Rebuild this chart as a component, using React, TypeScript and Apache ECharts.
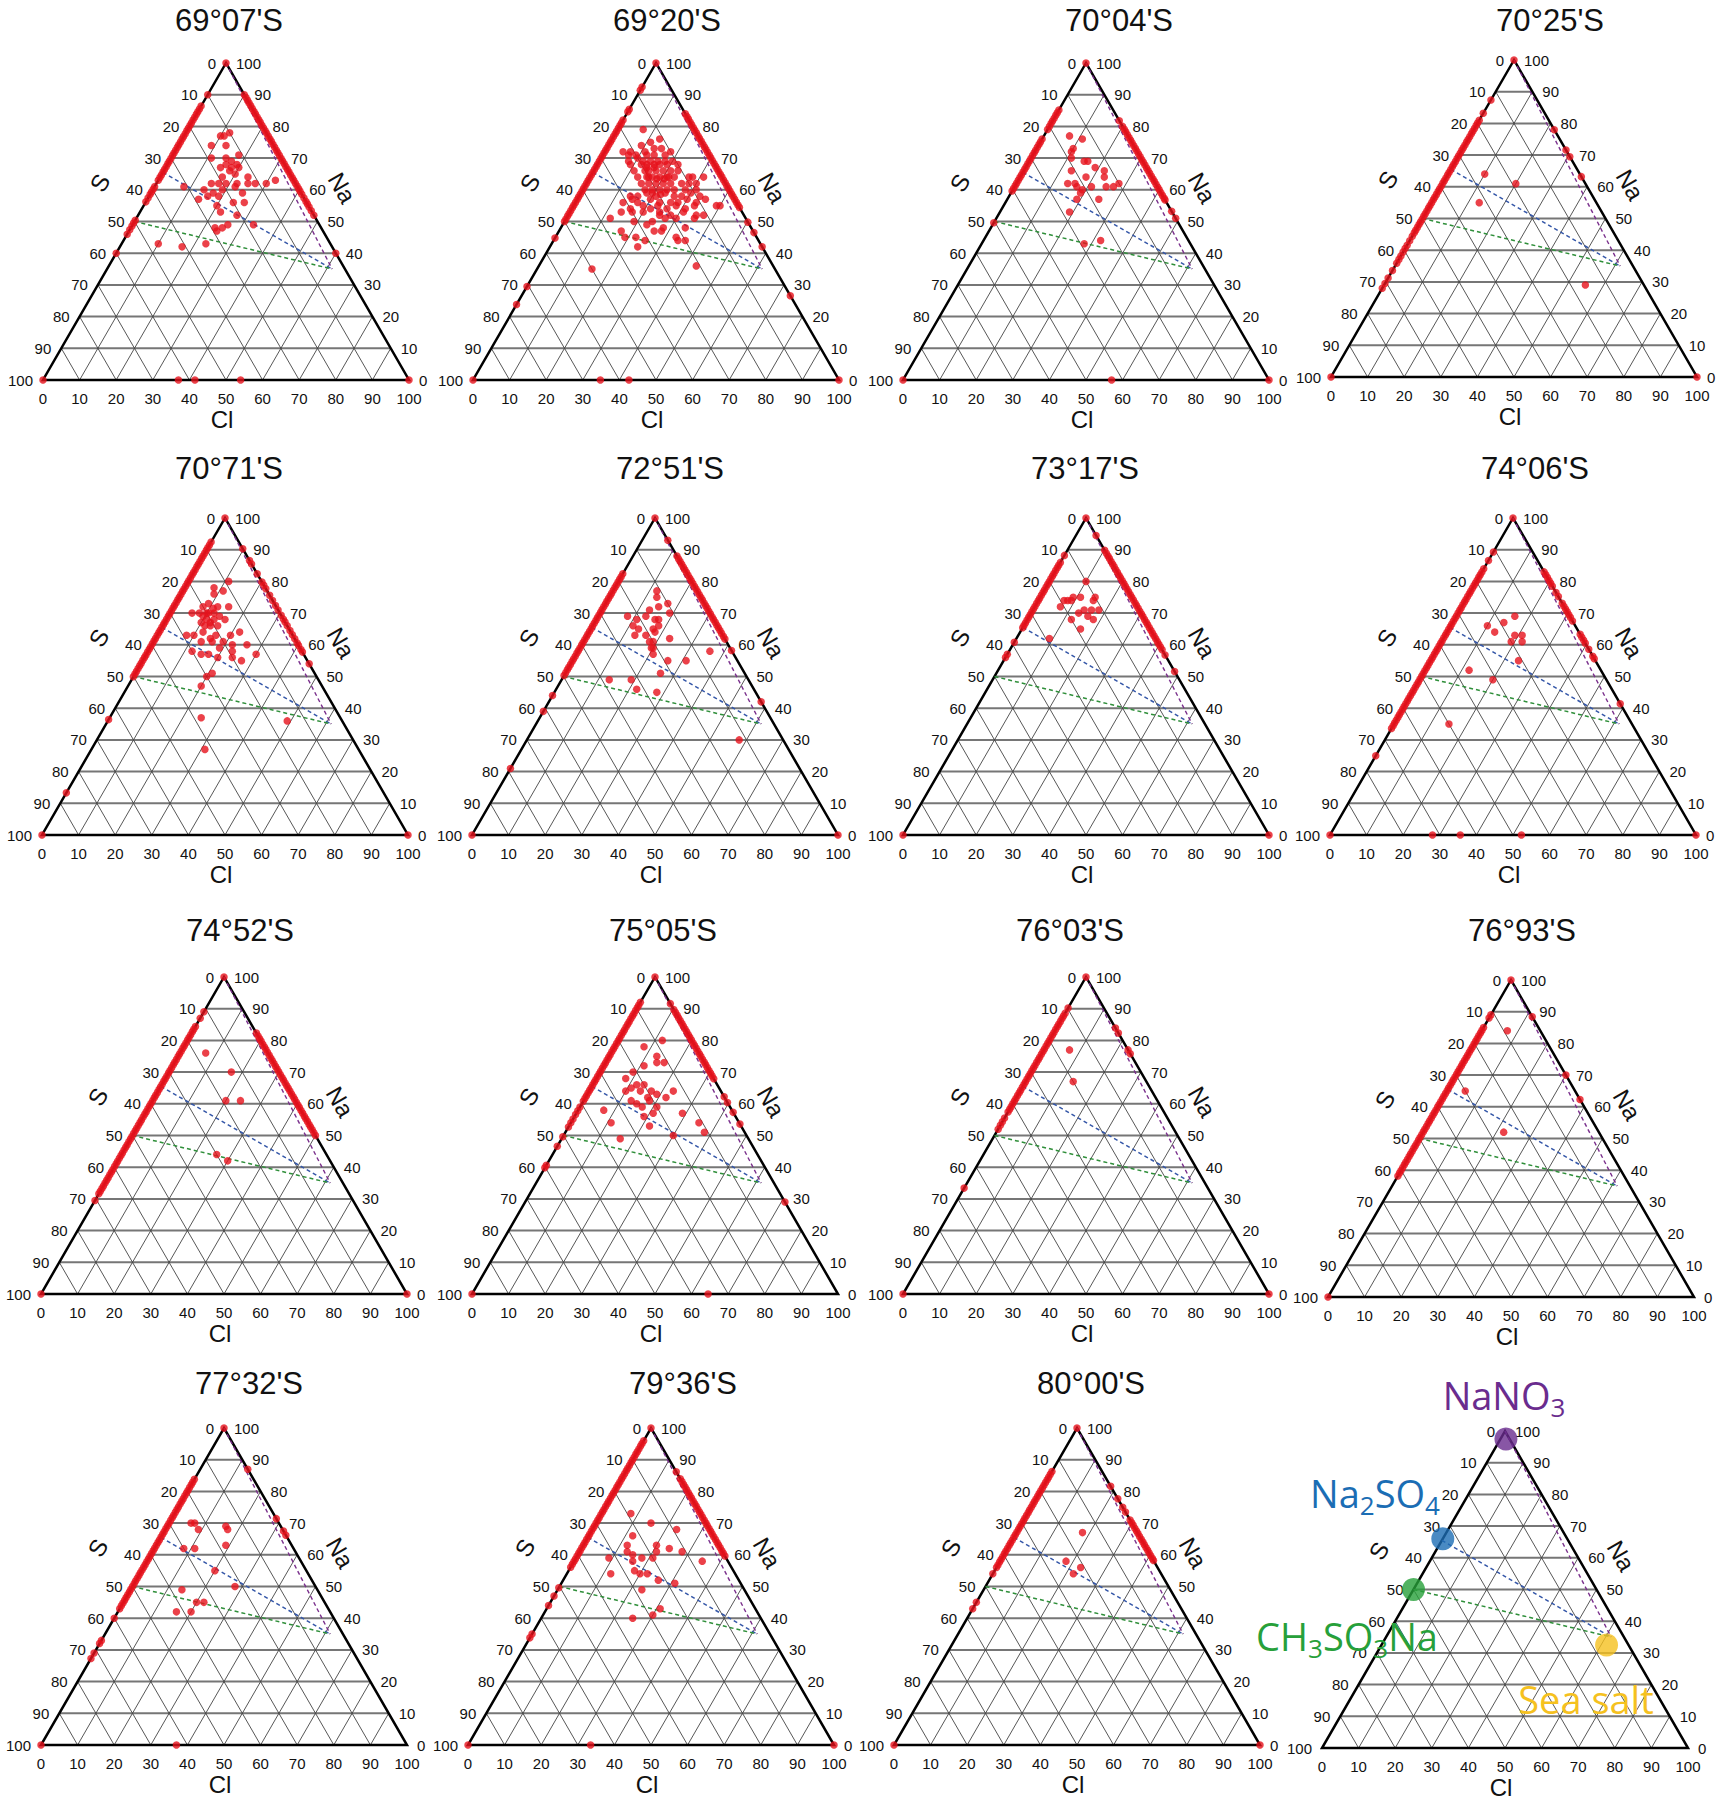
import React, { useEffect, useRef } from "react";
import * as echarts from "echarts";

const FONT = '"Liberation Sans", Arial, Helvetica, sans-serif';
const LEGEND_FONT = '"Open Sans", "Liberation Sans", sans-serif';
const SQ = Math.sqrt(3) / 2;
const PANEL_W = 366;
const PANEL_H = 317;

// tick values of the three ternary axes (S, Cl, Na in %)
const ticks = [0, 10, 20, 30, 40, 50, 60, 70, 80, 90, 100];

// reference compositions [S, Cl, Na]
const na2so4Ref = [34.5, 0, 65.5];
const ch3so3naRef = [50, 0, 50];
const nano3Ref = [0, 0, 100];
const seaSaltRef = [3.5, 61.5, 35];

// legend markers [S, Cl, Na]
const legendNames = ["NaNO3", "Na2SO4", "CH3SO3Na", "Sea salt"];
const legendPoints = [
  [1, 1.5, 97.5],
  [34, 0, 66],
  [50, 0, 50],
  [6, 61.5, 32.5],
];
const legendColors = ["#6a2c8e", "#1b6db4", "#27a03a", "#f5c11f"];

const stationTitles = [
  "69°07'S", "69°20'S", "70°04'S", "70°25'S",
  "70°71'S", "72°51'S", "73°17'S", "74°06'S",
  "74°52'S", "75°05'S", "76°03'S", "76°93'S",
  "77°32'S", "79°36'S", "80°00'S",
];

// ---- data per station ----
// left: S on the S–Na edge (Cl = 0); right: Na on the Cl–Na edge (S = 0)
// base: Cl on the S–Cl edge (Na = 0); inner: [S, Cl] (Na = rest)
const left_6907 = [0, 10, 13.6, 14.5, 15.4, 16.2, 17.1, 18, 18.9, 19.7, 20.6, 21.4, 22.3, 23.2, 24, 24.9, 25.8, 26.6, 27.5, 28.4, 29.2, 30.1, 31, 31.8, 32.7, 33.6, 34.4, 35.3, 36.1, 37, 39, 39.8, 40.7, 41.5, 42.6, 43.8, 49.6, 50.5, 51.4, 52.6, 54, 60, 100];
const right_6907 = [90, 89.1, 88.2, 87.4, 86.5, 85.6, 84.7, 83.9, 83, 82.1, 81.3, 80.4, 79.5, 78.6, 77.8, 76.9, 76, 75.2, 74.3, 73.4, 72.5, 71.7, 70.8, 69.9, 69.1, 68.2, 67.3, 66.4, 65.6, 64.7, 63.8, 63, 62.1, 61.2, 60.3, 59.5, 58.6, 57.4, 56.3, 55.5, 54.6, 53.4, 52, 40, 0];
const base_6907 = [37, 41.5, 54];
const inner_6907 = [[13, 10], [12, 11], [10, 12], [17, 9], [13, 13], [19, 11], [15, 15], [11, 18], [14, 17], [13, 19], [16, 16], [18, 15], [15, 18], [13, 20], [15, 20], [16, 18], [19, 17], [23, 15], [21, 17], [19, 19], [16, 22], [12, 24], [13, 25], [11, 27], [8, 30], [5, 32], [26, 14], [24, 17], [21, 19], [17, 22], [16, 25], [29, 14], [26, 16], [23, 19], [20, 24], [17, 27], [25, 20], [25, 22], [21, 27], [31, 8], [29, 23], [27, 25], [25, 26], [18, 33], [29, 24], [47, 10], [41, 17], [34, 23]];

const left_6920 = [0, 7.6, 8.6, 14.6, 15.4, 18, 18.9, 19.7, 20.6, 21.5, 22.3, 23.2, 24.1, 24.9, 25.8, 26.7, 27.5, 28.4, 29.3, 30.1, 31, 31.9, 32.7, 33.6, 34.5, 35.3, 36.2, 37.1, 37.9, 38.8, 39.7, 40.5, 41.4, 42.3, 43.1, 44, 44.9, 45.7, 46.6, 47.5, 48.3, 49.2, 50, 55.2, 70.5, 76.2, 100];
const right_6920 = [84, 83.1, 82.3, 81.4, 80.5, 79.6, 78.8, 77.9, 77, 76.2, 75.3, 74.4, 73.5, 72.7, 71.8, 70.9, 70.1, 69.2, 68.3, 67.4, 66.6, 65.7, 64.8, 64, 63.1, 62.2, 61.3, 60.5, 59.6, 58.7, 57.9, 57, 56.1, 55.2, 54.4, 49.8, 46.5, 42, 26.6, 0];
const base_6920 = [34.8, 42.6];
const inner_6920 = [[14, 7], [11, 13], [17, 9], [14, 11], [23, 5], [21, 7], [17, 11], [14, 13], [12, 15], [22, 7], [20, 9], [17, 12], [15, 14], [12, 17], [10, 18], [23, 8], [20, 10], [19, 12], [17, 14], [15, 16], [13, 18], [11, 20], [23, 9], [20, 12], [19, 14], [17, 16], [15, 17], [13, 19], [10, 22], [23, 11], [20, 14], [19, 15], [17, 17], [15, 19], [13, 21], [11, 23], [23, 13], [20, 16], [19, 17], [17, 19], [15, 21], [13, 23], [9, 27], [8, 28], [5, 31], [23, 15], [21, 17], [19, 19], [17, 21], [15, 23], [12, 26], [10, 28], [8, 30], [23, 17], [21, 19], [19, 21], [17, 23], [15, 25], [12, 28], [9, 31], [28, 14], [26, 16], [23, 18], [21, 21], [18, 23], [16, 26], [14, 28], [11, 30], [9, 33], [31, 13], [28, 15], [27, 17], [23, 20], [21, 23], [18, 26], [16, 28], [13, 30], [11, 33], [8, 35], [30, 16], [26, 19], [22, 23], [20, 26], [17, 28], [15, 31], [12, 33], [6, 39], [5, 40], [33, 14], [30, 17], [27, 20], [23, 25], [20, 28], [16, 31], [13, 35], [11, 37], [37, 12], [31, 19], [26, 24], [22, 27], [19, 30], [14, 35], [28, 23], [24, 28], [18, 34], [36, 17], [27, 26], [25, 28], [36, 19], [22, 33], [31, 25], [33, 22], [20, 36], [22, 34], [34, 24], [50, 15], [21, 43], [18.5, 13.5], [16.5, 15.5], [20.5, 15.5], [18, 18.5], [16, 20.5], [21.5, 19.5], [19.5, 22], [24.5, 21.5], [22.5, 24.5], [14.5, 21.5]];

const left_7004 = [0, 14.8, 15.7, 16.5, 17.4, 18.3, 19.1, 20, 21, 24, 24.9, 25.7, 26.6, 27.5, 28.3, 29.2, 30.1, 30.9, 31.8, 32.7, 33.5, 34.4, 35.3, 36.1, 37, 37.9, 38.7, 39.6, 40.4, 50.4, 100];
const right_7004 = [81.8, 80, 79.1, 78.3, 77.4, 76.5, 75.6, 74.8, 73.9, 73, 72.2, 71.3, 70.4, 69.5, 68.7, 67.8, 66.9, 66.1, 65.2, 64.3, 63.4, 62.6, 61.7, 60.8, 60, 59.1, 58.2, 57.3, 56.8, 53.2, 51, 0];
const base_7004 = [57];
const inner_7004 = [[16, 7], [13, 11], [17, 10], [18, 10], [15, 16], [16, 15], [19, 11], [14, 19], [12, 22], [21, 13], [18, 18], [13, 23], [24, 14], [22, 16], [22, 17], [21, 19], [22, 19], [18, 21], [14, 25], [12, 27], [10, 28], [18, 25], [24, 19], [28, 19], [29, 28], [24, 32]];

const left_7025 = [0, 12.6, 16.8, 19, 19.9, 20.7, 21.6, 22.5, 23.3, 24.2, 25.1, 25.9, 26.8, 27.7, 28.5, 29.4, 30.3, 31.1, 32, 32.9, 33.7, 34.6, 35.5, 36.3, 37.2, 38.1, 38.9, 39.8, 40.7, 41.5, 42.4, 43.3, 44.1, 45, 45.9, 46.7, 47.6, 48.5, 49.3, 50.2, 51.1, 51.9, 52.8, 53.7, 54.5, 55.6, 57, 58.4, 59.5, 60.6, 61.8, 62.9, 64.1, 66.4, 68.8, 70.5, 72, 100];
const right_7025 = [78, 71.6, 69.5, 63.2, 0];
const base_7025: number[] = [];
const inner_7025 = [[26, 10], [19, 20], [32, 13], [16, 55]];

const left_7071 = [0, 7.6, 8.5, 9.4, 10.2, 11.1, 12, 12.8, 13.7, 14.6, 15.4, 16.3, 17.2, 18, 18.9, 19.8, 20.6, 21.5, 22.4, 23.2, 24.1, 25, 25.8, 26.7, 27.6, 28.4, 29.3, 30.2, 31, 31.9, 32.8, 33.6, 34.5, 35.4, 36.2, 37.1, 38, 38.8, 39.7, 40.6, 41.4, 42.3, 43.2, 44, 44.9, 45.8, 46.6, 47.5, 48.4, 49.2, 50.1, 63.6, 86.7, 100];
const right_7071 = [90.3, 86.6, 85.5, 82.4, 79.8, 78.8, 77.7, 75.6, 74, 72.4, 71, 69.3, 68.1, 67.2, 66, 64.5, 63.2, 61.9, 60.6, 59.8, 58.5, 57.7, 54, 0];
const base_7071: number[] = [];
const inner_7071 = [[14, 8], [9, 11], [12, 11], [15, 9], [20, 8], [18, 9], [16, 12], [13, 15], [24, 6], [22, 8], [20, 10], [18, 12], [17, 14], [16, 16], [23, 10], [21, 11], [19, 13], [22.5, 11.5], [21, 13], [19, 15], [29, 8], [27, 10], [24, 12], [23, 15], [21, 16], [20, 19], [17, 20], [14, 22], [26, 13], [23, 16], [22, 19], [18, 22], [19, 23], [14, 26], [30, 12], [28, 15], [26, 17], [24, 20], [20, 24], [18, 27], [13, 30], [30, 20], [28, 21], [33, 20], [38, 25], [15, 49], [42, 31], [19.5, 10.5], [21.5, 9.5], [17.5, 11], [20.5, 12.5]];

const left_7251 = [0, 17.6, 18.5, 19.3, 20.2, 21.1, 21.9, 22.8, 23.7, 24.5, 25.4, 26.3, 27.1, 28, 28.9, 29.7, 30.6, 31.5, 32.3, 33.2, 34.1, 34.9, 35.8, 36.7, 37.5, 38.4, 39.3, 40.1, 41, 41.9, 42.7, 43.6, 44.5, 45.3, 46.2, 47.1, 47.9, 48.8, 49.7, 56, 61, 79, 100];
const right_7251 = [93, 88, 87.1, 86.3, 85.4, 84.5, 83.7, 82.8, 81.9, 81, 80.2, 79.3, 78.4, 77.6, 76.7, 75.8, 74.9, 74.1, 73.2, 72.3, 71.5, 70.6, 69.7, 68.8, 68, 67.1, 66.2, 65.4, 64.5, 63.6, 62.6, 61.8, 58.2, 42, 0];
const base_7251: number[] = [];
const inner_7251 = [[11, 12], [12, 13], [10, 17], [13, 15], [11, 19], [16, 13], [16, 16], [23, 8], [21, 11], [18, 13], [15, 17], [23, 11], [22, 13], [18, 17], [16, 18], [24, 13], [21, 16], [18, 18], [20, 19], [21, 18], [21.5, 19.5], [21, 20], [22, 21], [15, 23], [6, 36], [19, 26], [14, 31], [23, 26], [38, 13], [32, 19], [32, 22], [27, 28], [12, 58]];

const left_7317 = [0, 11.8, 14, 14.9, 15.7, 16.6, 17.5, 18.3, 19.2, 20.1, 20.9, 21.8, 22.7, 23.5, 24.4, 25.3, 26.1, 27, 27.9, 28.7, 29.6, 30.5, 31.3, 32.2, 33.1, 33.9, 34.6, 39.2, 43, 44, 100];
const right_7317 = [94.5, 89.8, 88.9, 88, 87.2, 86.3, 85.4, 84.6, 83.7, 82.8, 81.9, 81.1, 80.2, 79.3, 78.5, 77.6, 76.7, 75.8, 75, 74.1, 73.2, 72.4, 71.5, 70.6, 69.7, 68.9, 68, 67.1, 66.3, 65.4, 64.5, 63.6, 62.8, 61.9, 61, 60.2, 59.3, 58.4, 56.8, 51.6, 0];
const base_7317: number[] = [];
const inner_7317 = [[10, 10], [18, 8], [16, 9], [14, 11], [19, 7], [17, 9], [10, 15], [11, 15], [15, 14], [13, 16], [11, 18], [21, 7], [17, 13], [20, 12], [15, 16], [14, 18], [19, 16], [29, 9]];

const left_7406 = [0, 10.7, 13.4, 16, 17, 17.9, 18.7, 19.6, 20.5, 21.3, 22.2, 23.1, 23.9, 24.8, 25.7, 26.5, 27.4, 28.3, 29.1, 30, 30.9, 31.7, 32.6, 33.5, 34.3, 35.2, 36.1, 36.9, 37.8, 38.7, 39.5, 40.4, 41.3, 42.1, 43, 43.9, 44.7, 45.6, 46.5, 47.3, 48.2, 49.1, 49.9, 50.8, 51.7, 52.5, 53.4, 54.3, 55.1, 56, 56.9, 57.7, 58.6, 59.5, 60.3, 61.2, 62.1, 62.9, 63.8, 64.7, 65.5, 66.4, 75, 100];
const right_7406 = [83, 82.1, 81.2, 80.3, 79.4, 78.5, 76.5, 75.2, 73.1, 72.2, 71.3, 70.4, 69.5, 68.6, 67.5, 63.3, 62.4, 61.4, 60.5, 58.6, 56.4, 55.6, 41.4, 0];
const base_7406 = [28, 35.6, 52.3];
const inner_7406 = [[15, 16], [24, 10], [23, 13], [19, 14], [18, 19], [16, 21], [20, 19], [17, 22], [21, 24], [36, 12], [31, 20], [50, 15]];

const left_7452 = [0, 11, 13, 15.6, 16.5, 17.3, 18.2, 19.1, 19.9, 20.8, 21.7, 22.5, 23.4, 24.3, 25.1, 26, 26.9, 27.7, 28.6, 29.5, 30.3, 31.2, 32.1, 32.9, 33.8, 34.7, 35.5, 36.4, 37.3, 38.1, 39, 39.9, 40.7, 41.6, 42.5, 43.3, 44.2, 45.1, 45.9, 46.8, 47.7, 48.5, 49.4, 50.3, 51.1, 52, 52.9, 53.7, 54.6, 55.5, 56.3, 57.2, 58.1, 58.9, 59.8, 60.7, 61.5, 62.4, 63.3, 64.1, 65, 65.9, 66.7, 67.6, 68.4, 70.5, 100];
const right_7452 = [82.3, 81.4, 80.5, 79.7, 78.8, 77.9, 77.1, 76.2, 75.3, 74.4, 73.6, 72.7, 71.8, 71, 70.1, 69.2, 68.3, 67.5, 66.6, 65.7, 64.9, 64, 63.1, 62.2, 61.4, 60.5, 59.6, 58.8, 57.9, 57, 56.1, 55.3, 54.4, 53.5, 52.7, 51.8, 50.9, 50, 0];
const base_7452: number[] = [];
const inner_7452 = [[17, 7], [13, 17], [19, 20], [15, 24], [30, 26], [28, 30]];

const left_7505 = [0, 8, 8.9, 9.7, 10.6, 11.5, 12.3, 13.2, 14.1, 14.9, 15.8, 16.7, 17.5, 18.4, 19.3, 20.1, 21, 21.9, 22.7, 23.6, 24.5, 25.3, 26.2, 27.1, 27.9, 28.8, 29.7, 30.5, 31.4, 32.3, 33.1, 34, 34.9, 35.7, 36.6, 37.5, 38.3, 39.2, 41, 42.2, 43.4, 44.8, 46, 47.3, 50.4, 53.4, 59.4, 60.2, 100];
const right_7505 = [91.6, 89.7, 88.8, 87.9, 87.1, 86.2, 85.3, 84.5, 83.6, 82.7, 81.8, 81, 80.1, 79.2, 78.4, 77.5, 76.6, 75.7, 74.9, 74, 73.1, 72.3, 71.4, 70.5, 69.6, 68.8, 67.9, 62.2, 60.4, 57.3, 53.6, 29];
const base_7505 = [64.5];
const inner_7505 = [[8, 12], [14, 8], [12, 13], [17, 11], [13, 14], [11, 16], [21, 9], [24, 8], [22, 12], [20, 14], [24, 11], [22, 14], [19, 17], [26, 10], [21, 17], [18, 19], [13, 23], [16, 22], [21, 18], [25, 15], [20, 21], [35, 7], [25, 19], [22, 21], [14, 29], [35, 11], [25, 22], [11, 35], [11, 38], [20, 30], [35, 16], [24, 17], [26, 13]];

const left_7603 = [0, 9.8, 11.4, 12.3, 13.1, 14, 14.9, 15.7, 16.6, 17.5, 18.3, 19.2, 20.1, 20.9, 21.8, 22.7, 23.5, 24.4, 25.3, 26.1, 27, 27.9, 28.7, 29.6, 30.5, 31.3, 32.2, 33.1, 33.9, 34.8, 35.7, 36.5, 37.4, 38.3, 39.1, 40, 40.9, 41.7, 42.6, 44.5, 45.7, 46.8, 48, 66.6, 100];
const right_7603 = [83.9, 82.3, 77, 75.8, 0];
const base_7603: number[] = [];
const inner_7603 = [[16, 7], [20, 13]];

const left_7693 = [0, 11, 12, 15, 15.9, 16.7, 17.6, 18.5, 19.3, 20.2, 21.1, 21.9, 22.8, 23.7, 24.5, 25.4, 26.3, 27.1, 28, 28.9, 29.7, 30.6, 31.5, 32.3, 33.2, 34.1, 34.9, 35.8, 36.7, 37.5, 38.4, 39.3, 40.1, 41, 41.9, 42.7, 43.6, 44.5, 45.3, 46.2, 47.1, 47.9, 48.8, 49.7, 50.5, 51.4, 52.3, 53.1, 54, 54.9, 55.7, 56.6, 57.5, 58.3, 59.2, 60.1, 60.9, 61.8, 100];
const right_7693 = [88.4, 70, 62.3];
const base_7693: number[] = [];
const inner_7693 = [[9, 7], [30, 5], [26, 22]];

const left_7732 = [0, 16.2, 17.1, 17.9, 18.8, 19.7, 20.5, 21.4, 22.3, 23.1, 24, 24.9, 25.7, 26.6, 27.5, 28.3, 29.2, 30.1, 30.9, 31.8, 32.7, 33.5, 34.4, 35.3, 36.1, 37, 37.9, 38.7, 39.6, 40.5, 41.3, 42.2, 43.1, 43.9, 44.8, 45.7, 46.5, 47.4, 48.3, 49.1, 50, 50.9, 51.7, 52.6, 53.5, 54.3, 55.2, 56.1, 57, 60, 67, 68, 71, 72.7, 100];
const right_7732 = [87, 71.4, 67.5, 66.2];
const base_7732 = [37];
const inner_7732 = [[24, 6], [23, 7], [23, 9], [15, 16], [15, 17], [30, 8], [27, 11], [18, 19], [25, 20], [22, 28], [37, 14], [35, 20], [33, 22], [42, 16], [38, 20]];

const left_7936 = [0, 4, 4.9, 5.7, 6.6, 7.5, 8.3, 9.2, 10.1, 10.9, 11.8, 12.7, 13.5, 14.4, 15.3, 16.1, 17, 17.9, 18.7, 19.6, 20.5, 21.3, 22.2, 23.1, 23.9, 24.8, 25.7, 26.5, 27.4, 28.3, 29.1, 30, 30.9, 31.7, 32.6, 33.5, 34.3, 35.2, 36.1, 36.9, 37.8, 38.7, 39.5, 40.4, 41.3, 42.1, 43, 43.9, 50.4, 53, 56, 65, 66.2, 100];
const right_7936 = [86.2, 84, 83.1, 82.2, 81.4, 80.5, 79.6, 78.8, 77.9, 77, 76.1, 75.3, 74.4, 73.5, 72.7, 71.8, 70.9, 70, 69.2, 68.3, 67.4, 66.6, 65.7, 64.8, 63.9, 63.1, 62.2, 61.3, 60.5, 59.6, 0];
const base_7936 = [33.5];
const inner_7936 = [[19, 8], [15, 15], [9, 23], [22, 12], [25, 12], [26, 13], [17, 20], [18, 21], [14, 24], [11, 28], [32, 9], [25, 15], [26, 16], [23, 18], [20, 21], [7, 35], [34, 12], [27, 18], [26, 20], [24, 22], [22, 26], [18, 31], [28, 23], [26, 31], [35, 25], [29, 30]];

const left_8000 = [0, 13.7, 14.6, 15.5, 16.3, 17.2, 18.1, 18.9, 19.8, 20.7, 21.5, 22.4, 23.3, 24.1, 25, 25.9, 26.7, 27.6, 28.5, 29.3, 30.2, 31.1, 31.9, 32.8, 33.7, 34.5, 35.4, 36.3, 37.1, 38, 38.9, 39.7, 40.6, 41.5, 42.3, 43.2, 44, 46, 55, 57, 100];
const right_8000 = [81.6, 77.7, 75, 73.5, 71, 70.1, 69.3, 68.4, 67.5, 66.7, 65.8, 64.9, 64, 63.2, 62.3, 61.4, 60.6, 59.7, 58.8, 58.2, 0];
const base_8000: number[] = [];
const inner_8000 = [[15, 18], [24, 18], [21, 23], [24, 22]];

const stationLeft = [left_6907, left_6920, left_7004, left_7025, left_7071, left_7251, left_7317, left_7406, left_7452, left_7505, left_7603, left_7693, left_7732, left_7936, left_8000];
const stationRight = [right_6907, right_6920, right_7004, right_7025, right_7071, right_7251, right_7317, right_7406, right_7452, right_7505, right_7603, right_7693, right_7732, right_7936, right_8000];
const stationBase = [base_6907, base_6920, base_7004, base_7025, base_7071, base_7251, base_7317, base_7406, base_7452, base_7505, base_7603, base_7693, base_7732, base_7936, base_8000];
const stationInner = [inner_6907, inner_6920, inner_7004, inner_7025, inner_7071, inner_7251, inner_7317, inner_7406, inner_7452, inner_7505, inner_7603, inner_7693, inner_7732, inner_7936, inner_8000];

// ---- layout (pixels): bottom-left corner x, apex y, title centre ----
const panelLayout = [
  { x: 43, y: 63, tx: 229, ty: 20 },
  { x: 473, y: 63, tx: 667, ty: 20 },
  { x: 903, y: 63, tx: 1119, ty: 20 },
  { x: 1331, y: 60, tx: 1550, ty: 20 },
  { x: 42, y: 518, tx: 229, ty: 468 },
  { x: 472, y: 518, tx: 670, ty: 468 },
  { x: 903, y: 518, tx: 1085, ty: 468 },
  { x: 1330, y: 518, tx: 1535, ty: 468 },
  { x: 41, y: 977, tx: 240, ty: 930 },
  { x: 472, y: 977, tx: 663, ty: 930 },
  { x: 903, y: 977, tx: 1070, ty: 930 },
  { x: 1328, y: 980, tx: 1522, ty: 930 },
  { x: 41, y: 1428, tx: 249, ty: 1383 },
  { x: 468, y: 1428, tx: 683, ty: 1383 },
  { x: 894, y: 1428, tx: 1091, ty: 1383 },
  { x: 1322, y: 1431, tx: 0, ty: 0 },
];

const legendLabelPos = [
  { x: 1504, y: 1395 },
  { x: 1375, y: 1493 },
  { x: 1347, y: 1636 },
  { x: 1586, y: 1699 },
];

// ternary -> cartesian (value space of the panel axes)
const toXY = (S: number, Cl: number, Na: number) => [Cl + Na / 2, Na * SQ];

function stationPoints(i: number) {
  const pts: number[][] = [];
  stationLeft[i].forEach((s) => pts.push(toXY(s, 0, 100 - s)));
  stationRight[i].forEach((n) => pts.push(toXY(0, 100 - n, n)));
  stationBase[i].forEach((c) => pts.push(toXY(100 - c, c, 0)));
  stationInner[i].forEach(([s, c]) => pts.push(toXY(s, c, 100 - s - c)));
  return pts;
}

function txt(x: number, y: number, s: string, align: string, size = 15, rot = 0) {
  return {
    type: "text",
    x,
    y,
    rotation: rot,
    silent: true,
    style: {
      text: s,
      fill: "#111",
      font: `${size}px ${FONT}`,
      textAlign: align,
      textVerticalAlign: "middle",
      align,
      verticalAlign: "middle",
    },
  };
}

const frameRender = (_params: any, api: any) => {
  const P = (c: number[]) => api.coord(toXY(c[0], c[1], c[2]));
  const children: any[] = [];
  const seg = (a: number[], b: number[], stroke: string, lw: number, dash?: number[]) =>
    children.push({
      type: "line",
      silent: true,
      shape: { x1: a[0], y1: a[1], x2: b[0], y2: b[1] },
      style: { stroke, lineWidth: lw, lineDash: dash || null, fill: null },
    });
  ticks.forEach((t) => {
    if (t === 0 || t === 100) return;
    seg(P([100 - t, 0, t]), P([0, 100 - t, t]), "#767676", 2);
  });
  ticks.forEach((t) => {
    if (t === 0 || t === 100) return;
    seg(P([100 - t, t, 0]), P([0, t, 100 - t]), "#444", 0.9);
    seg(P([t, 100 - t, 0]), P([t, 0, 100 - t]), "#444", 0.9);
  });
  const A = P([0, 0, 100]);
  const BL = P([100, 0, 0]);
  const BR = P([0, 100, 0]);
  children.push({
    type: "polygon",
    silent: true,
    shape: { points: [A, BL, BR] },
    style: { fill: "none", stroke: "#000", lineWidth: 2.5, lineJoin: "miter" },
  });
  seg(P(na2so4Ref), P(seaSaltRef), "#3557a8", 1.5, [4, 3]);
  seg(P(ch3so3naRef), P(seaSaltRef), "#2f8f3a", 1.5, [4, 3]);
  seg(P(nano3Ref), P(seaSaltRef), "#7a2f8c", 1.4, [4, 3]);
  ticks.forEach((t) => {
    const l = P([t, 0, 100 - t]);
    children.push(txt(l[0] - 10, l[1], String(t), "right"));
    const r = P([0, 100 - t, t]);
    children.push(txt(r[0] + 10, r[1], String(t), "left"));
    const b = P([100 - t, t, 0]);
    children.push(txt(b[0], b[1] + 18, String(t), "center"));
  });
  const mL = P([37.8, 0, 62.2]);
  children.push(txt(mL[0] - 57, mL[1], "S", "center", 24, Math.PI / 3));
  const mR = P([0, 39.4, 60.6]);
  children.push(txt(mR[0] + 44, mR[1], "Na", "center", 24, -Math.PI / 3));
  const mB = P([50, 50, 0]);
  children.push(txt(mB[0] - 4, mB[1] + 39, "Cl", "center", 24));
  return { type: "group", children };
};

function richLabel(name: string) {
  const parts: string[] = [];
  const re = /([A-Za-z ]+)|(\d+)/g;
  let m;
  while ((m = re.exec(name))) {
    if (m[1]) parts.push(`{m|${m[1]}}`);
    else parts.push(`{s|${m[2]}}`);
  }
  return parts.join("");
}

function buildOption() {
  const grids: any[] = [];
  const xAxes: any[] = [];
  const yAxes: any[] = [];
  const series: any[] = [];
  const graphics: any[] = [];

  panelLayout.forEach((p, i) => {
    grids.push({ left: p.x, top: p.y, width: PANEL_W, height: PANEL_H, containLabel: false });
    xAxes.push({ type: "value", gridIndex: i, min: 0, max: 100, show: false });
    yAxes.push({ type: "value", gridIndex: i, min: 0, max: 100 * SQ, show: false });
    series.push({
      type: "custom",
      xAxisIndex: i,
      yAxisIndex: i,
      silent: true,
      z: 1,
      data: [[0, 0]],
      renderItem: frameRender,
    });
    if (i < stationTitles.length) {
      series.push({
        type: "scatter",
        xAxisIndex: i,
        yAxisIndex: i,
        silent: true,
        clip: false,
        z: 3,
        symbol: "circle",
        symbolSize: 7.5,
        itemStyle: { color: "#e6121b" },
        data: stationPoints(i),
      });
      graphics.push({
        type: "text",
        x: p.tx,
        y: p.ty,
        silent: true,
        style: {
          text: stationTitles[i],
          fill: "#111",
          font: `31px ${FONT}`,
          textAlign: "center",
          textVerticalAlign: "middle",
          align: "center",
          verticalAlign: "middle",
        },
      });
    }
  });

  const li = panelLayout.length - 1;
  series.push({
    type: "scatter",
    xAxisIndex: li,
    yAxisIndex: li,
    silent: true,
    clip: false,
    z: 5,
    symbol: "circle",
    symbolSize: 23,
    data: legendPoints.map((c, k) => ({
      value: toXY(c[0], c[1], c[2]),
      itemStyle: { color: legendColors[k] },
    })),
  });

  legendNames.forEach((name, k) => {
    const col = legendColors[k];
    graphics.push({
      type: "text",
      x: legendLabelPos[k].x,
      y: legendLabelPos[k].y,
      z: 100,
      silent: true,
      style: {
        text: richLabel(name),
        fill: col,
        font: `38px ${LEGEND_FONT}`,
        textAlign: "center",
        textVerticalAlign: "middle",
        align: "center",
        verticalAlign: "middle",
        rich: {
          m: { font: `38px ${LEGEND_FONT}`, fill: col, lineHeight: 50, verticalAlign: "middle" },
          s: { font: `26px ${LEGEND_FONT}`, fill: col, verticalAlign: "bottom" },
        },
      },
    });
  });

  return {
    animation: false,
    backgroundColor: "#ffffff",
    grid: grids,
    xAxis: xAxes,
    yAxis: yAxes,
    series,
    graphic: { elements: graphics },
  };
}

export default function App() {
  const ref = useRef<HTMLDivElement>(null);
  useEffect(() => {
    if (!ref.current) return;
    const chart = echarts.init(ref.current, undefined, { renderer: "svg" });
    chart.setOption(buildOption() as any);
    return () => chart.dispose();
  }, []);
  return (
    <div
      ref={ref}
      style={{ position: "absolute", left: 0, top: 0, width: 1721, height: 1810, background: "#fff" }}
    />
  );
}
